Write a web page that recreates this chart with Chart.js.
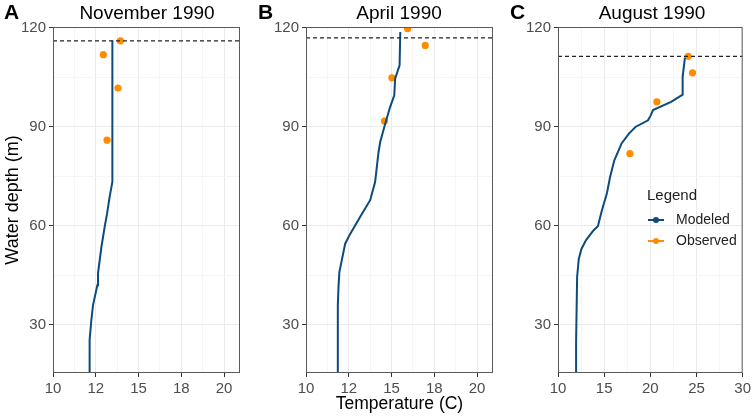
<!DOCTYPE html>
<html>
<head>
<meta charset="utf-8">
<script src="https://cdn.jsdelivr.net/npm/chart.js@4.4.1/dist/chart.umd.min.js"></script>
<style>
  body { margin: 0; background: #fff; font-family: "Liberation Sans", Arial, sans-serif; }
  #wrap { position: relative; width: 754px; height: 419px; overflow: hidden; }
  .pane { position: absolute; top: 0; height: 419px; }
  .letter { position: absolute; top: 0; font-size: 21px; font-weight: bold; color: #000; }
  .ttl { position: absolute; top: 2px; font-size: 19px; color: #000; transform: translateX(-50%); white-space: nowrap; }
  #legend { position: absolute; left: 647px; top: 186px; font-size: 14px; color: #222; }
  #legend .head { font-size: 15px; margin-bottom: 6px; }
  #legend .row { position: relative; height: 21px; line-height: 21px; padding-left: 29px; }
  #legend .key { position: absolute; left: 1px; top: 10px; width: 16px; height: 2px; }
  #legend .key i { position: absolute; left: 5px; top: -2.5px; width: 6px; height: 6px; border-radius: 50%; }
</style>
</head>
<body>
<div id="wrap">
  <canvas id="cA" class="pane" style="left:0;width:250px" width="250" height="419"></canvas>
  <canvas id="cB" class="pane" style="left:250px;width:253px" width="253" height="419"></canvas>
  <canvas id="cC" class="pane" style="left:500px;width:254px" width="254" height="419"></canvas>
  <div class="letter" style="left:4px">A</div>
  <div class="letter" style="left:258px">B</div>
  <div class="letter" style="left:510px">C</div>
  <div class="ttl" style="left:147px">November 1990</div>
  <div class="ttl" style="left:399px">April 1990</div>
  <div class="ttl" style="left:652px">August 1990</div>
  <div id="legend">
    <div class="head">Legend</div>
    <div class="row"><span class="key" style="background:#0d4a7e"><i style="background:#0d4a7e"></i></span>Modeled</div>
    <div class="row"><span class="key" style="background:#ff8c00"><i style="background:#ff8c00"></i></span>Observed</div>
  </div>
</div>
<script>
// modeled profiles (temperature C vs water depth m)
const modTempA  = [12.14, 12.14, 12.24, 12.34, 12.59, 12.63, 12.83, 13.02, 13.16, 13.31, 13.47, 13.47];
const modDepthA = [15.3, 25.4, 31.4, 36.0, 42.0, 45.6, 53.6, 59.7, 63.7, 68.8, 73.3, 116.2];
const obsTempA  = [13.94, 12.94, 13.8, 13.16];
const obsDepthA = [116.1, 111.9, 101.8, 86.0];
const surfaceA = 116.1;

const modTempB  = [11.86, 11.86, 11.9, 11.95, 12.29, 12.54, 13.16, 13.75, 14.04, 14.24, 14.34, 14.63, 14.92, 15.16, 15.21, 15.47, 15.51];
const modDepthB = [15.3, 36.0, 41.5, 46.0, 54.6, 57.2, 62.7, 67.8, 73.3, 82.4, 85.5, 91.0, 96.1, 99.6, 104.6, 108.7, 118.8];
const obsTempB  = [15.94, 16.97, 15.02, 14.59];
const obsDepthB = [119.8, 114.7, 104.9, 91.8];
const surfaceB = 117.0;

const modTempC  = [11.96, 11.96, 12.07, 12.25, 12.54, 13.04, 13.86, 14.32, 14.75, 15.29, 15.64, 16.1, 16.89, 17.68, 18.39, 19.75, 20.04, 20.29, 22.25, 23.5, 23.5, 23.75];
const modDepthC = [15.3, 24.8, 44.5, 50.0, 53.0, 55.7, 58.7, 59.9, 64.7, 69.8, 74.8, 79.9, 85.0, 88.0, 90.0, 92.0, 93.5, 95.1, 97.6, 99.8, 105.2, 111.0];
const obsTempC  = [24.1, 24.57, 20.71, 17.79];
const obsDepthC = [111.4, 106.4, 97.6, 81.9];
const surfaceC = 111.4;

const xTicksAB = [10, 12.5, 15, 17.5, 20];
const xLabelsAB = ['10', '12', '15', '18', '20'];
const xTicksC = [10, 15, 20, 25, 30];
const xLabelsC = ['10', '15', '20', '25', '30'];
const yTicks = [30, 60, 90, 120];
const yLabels = ['30', '60', '90', '120'];

const FONT = "'Liberation Sans', Arial, sans-serif";
const LINE = '#0d4a7e', DOT = '#ff8c00';

// ggplot-ish panel border
const boxPlugin = {
  id: 'box',
  afterDraw(chart) {
    const a = chart.chartArea, c = chart.ctx;
    c.save();
    c.strokeStyle = '#5a5a5a';
    c.lineWidth = 1;
    c.strokeRect(a.left + 0.5, a.top + 0.5, a.right - a.left - 1, a.bottom - a.top - 1);
    c.restore();
  }
};

function withMinor(major, min, max) {
  const out = major.map(v => ({ value: v, major: true }));
  const step = major[1] - major[0];
  for (let v = major[0] - step / 2; v <= max; v += step) {
    if (v >= min) out.push({ value: v, major: false });
  }
  return out.sort((a, b) => a.value - b.value);
}

function toPts(xs, ys) { return xs.map((x, i) => ({ x: x, y: ys[i] })); }

function panel(id, o) {
  const xmin = o.xmin, xmax = o.xmax, ymin = 15.4, ymax = 120.3;
  new Chart(document.getElementById(id), {
    type: 'scatter',
    data: {
      datasets: [
        { data: [{ x: xmin, y: o.surface }, { x: xmax, y: o.surface }], showLine: true,
          borderColor: '#222', borderWidth: 1.1, borderDash: [4, 3], pointRadius: 0 },
        { data: toPts(o.mt, o.md), showLine: true, borderColor: LINE, borderWidth: 2,
          pointRadius: 0, tension: 0 },
        { data: toPts(o.ot, o.od), pointRadius: 3.6, backgroundColor: DOT, borderWidth: 0 }
      ]
    },
    options: {
      responsive: false,
      animation: false,
      layout: { padding: { top: 27, right: o.padR, left: 0, bottom: 0 } },
      plugins: { legend: { display: false }, tooltip: { enabled: false } },
      scales: {
        x: {
          type: 'linear', min: xmin, max: xmax,
          afterBuildTicks: s => { s.ticks = withMinor(o.xt, xmin, xmax); },
          afterFit: s => { s.height = 46; },
          ticks: {
            autoSkip: false, maxRotation: 0, padding: 3, color: '#4d4d4d',
            font: { family: FONT, size: 15 },
            callback: v => { const i = o.xt.indexOf(v); return i < 0 ? '' : o.xl[i]; }
          },
          grid: {
            color: c => c.tick && c.tick.major ? '#ebebeb' : '#f5f5f5',
            tickColor: c => c.tick && c.tick.major ? '#333' : 'rgba(0,0,0,0)',
            tickLength: 4
          },
          border: { display: false },
          title: { display: !!o.xTitle, text: o.xTitle || '', color: '#000',
                   font: { family: FONT, size: 17.5 }, padding: { top: 0, bottom: 4 } }
        },
        y: {
          type: 'linear', min: ymin, max: ymax,
          afterBuildTicks: s => { s.ticks = withMinor(yTicks, ymin, ymax); },
          afterFit: s => { s.width = o.yw; },
          ticks: {
            autoSkip: false, padding: 3, color: '#4d4d4d',
            font: { family: FONT, size: 15 },
            callback: v => { const i = yTicks.indexOf(v); return i < 0 ? '' : yLabels[i]; }
          },
          grid: {
            color: c => c.tick && c.tick.major ? '#ebebeb' : '#f5f5f5',
            tickColor: c => c.tick && c.tick.major ? '#333' : 'rgba(0,0,0,0)',
            tickLength: 4
          },
          border: { display: false },
          title: { display: !!o.yTitle, text: o.yTitle || '', color: '#000',
                   font: { family: FONT, size: 18 }, padding: { top: 2, bottom: 0 } }
        }
      }
    },
    plugins: [boxPlugin]
  });
}

panel('cA', { mt: modTempA, md: modDepthA, ot: obsTempA, od: obsDepthA, surface: surfaceA,
  xmin: 10, xmax: 20.93, xt: xTicksAB, xl: xLabelsAB, yw: 53, padR: 10, yTitle: 'Water depth (m)' });
panel('cB', { mt: modTempB, md: modDepthB, ot: obsTempB, od: obsDepthB, surface: surfaceB,
  xmin: 10, xmax: 20.93, xt: xTicksAB, xl: xLabelsAB, yw: 56, padR: 10, xTitle: 'Temperature (C)' });
panel('cC', { mt: modTempC, md: modDepthC, ot: obsTempC, od: obsDepthC, surface: surfaceC,
  xmin: 10, xmax: 30, xt: xTicksC, xl: xLabelsC, yw: 58, padR: 8 });
</script>
</body>
</html>
